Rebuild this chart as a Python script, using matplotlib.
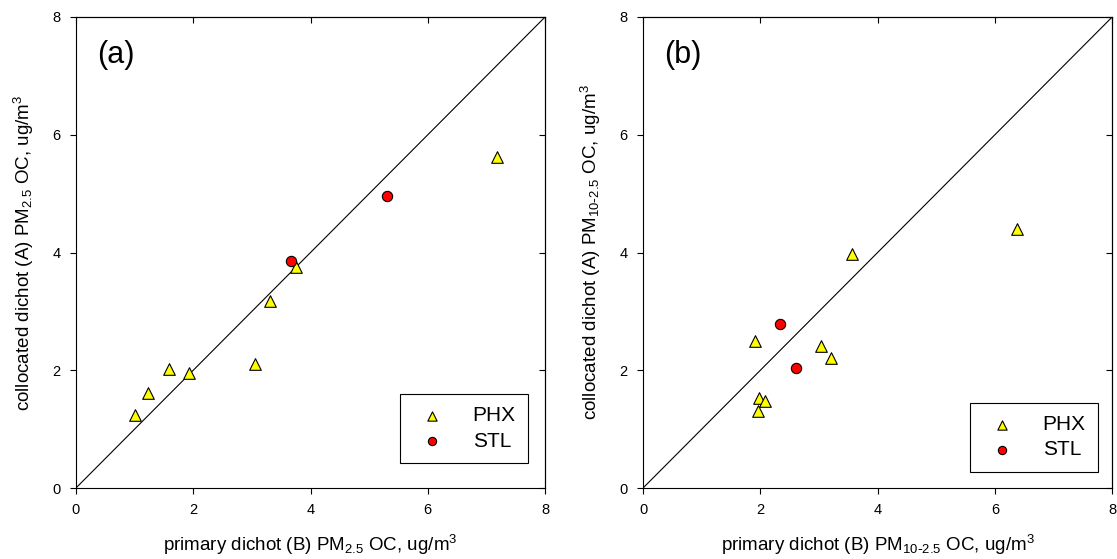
import matplotlib
matplotlib.use("Agg")
import matplotlib.pyplot as plt

plt.rcParams['font.family'] = ['Liberation Sans', 'DejaVu Sans']
plt.rcParams['mathtext.default'] = 'regular'

# panel (a) PM2.5 OC
a_phx_x = [7.18, 3.75, 3.31, 3.06, 1.93, 1.58, 1.23, 1.01]
a_phx_y = [5.63, 3.76, 3.17, 2.10, 1.96, 2.02, 1.62, 1.24]
a_stl_x = [5.30, 3.67]
a_stl_y = [4.96, 3.86]

# panel (b) PM10-2.5 OC
b_phx_x = [6.38, 3.57, 1.91, 3.04, 3.21, 1.98, 2.08, 1.96]
b_phx_y = [4.40, 3.98, 2.49, 2.42, 2.21, 1.53, 1.47, 1.31]
b_stl_x = [2.33, 2.61]
b_stl_y = [2.79, 2.03]

ticks = [0, 2, 4, 6, 8]

fig = plt.figure(figsize=(11.17, 5.59), dpi=100)
ax1 = fig.add_axes([0.068, 0.127, 0.420, 0.8426])
ax2 = fig.add_axes([0.5757, 0.127, 0.420, 0.8426])

panels = [
    (ax1, a_phx_x, a_phx_y, a_stl_x, a_stl_y, '(a)', '2.5', (0.964, 0.053)),
    (ax2, b_phx_x, b_phx_y, b_stl_x, b_stl_y, '(b)', r'10\text{-}2.5', (0.970, 0.034)),
]

for ax, px, py, sx, sy, tag, sub, anchor in panels:
    ax.plot([0, 8], [0, 8], color='black', lw=0.8, zorder=1)
    ax.scatter(px, py, marker='^', s=70, facecolor='#ffff00', edgecolor='black',
               linewidth=0.8, zorder=3, label='PHX')
    ax.scatter(sx, sy, marker='o', s=55, facecolor='#ff0000', edgecolor='black',
               linewidth=0.8, zorder=3, label='STL')
    ax.set_xlim(0, 8)
    ax.set_ylim(0, 8)
    ax.set_xticks(ticks)
    ax.set_yticks(ticks)
    ax.tick_params(direction='out', length=4, width=0.8, labelsize=10.5, pad=7)
    for s in ax.spines.values():
        s.set_linewidth(0.8)
    # inward ticks on top and right like the original
    top = ax.secondary_xaxis('top')
    top.set_xticks(ticks)
    top.tick_params(direction='in', length=4, width=0.8, labeltop=False)
    right = ax.secondary_yaxis('right')
    right.set_yticks(ticks)
    right.tick_params(direction='in', length=4, width=0.8, labelright=False)

    ax.set_xlabel('primary dichot (B) PM$_{%s}$ OC, ug/m$^3$' % sub, fontsize=13.5, labelpad=11)
    ax.set_ylabel('collocated dichot (A) PM$_{%s}$ OC, ug/m$^3$' % sub, fontsize=13.5, labelpad=12)
    ax.text(0.045, 0.919, tag, transform=ax.transAxes, fontsize=22, va='center', ha='left')

    leg = ax.legend(loc='lower right', bbox_to_anchor=anchor, borderaxespad=0,
                    fontsize=15, fancybox=False, edgecolor='black', framealpha=1,
                    markerscale=0.8, handletextpad=1.0, borderpad=0.6,
                    labelspacing=0.3, handlelength=1.9)
    leg.get_frame().set_linewidth(0.8)

fig.savefig('out.png', dpi=100)
